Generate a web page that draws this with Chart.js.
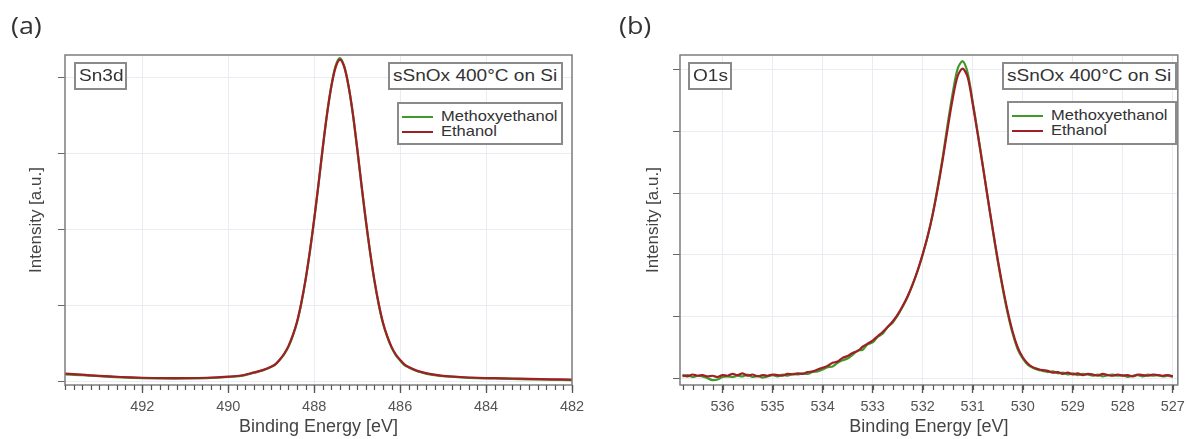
<!DOCTYPE html>
<html>
<head>
<meta charset="utf-8">
<script src="https://cdn.jsdelivr.net/npm/chart.js@4.4.0/dist/chart.umd.min.js"></script>
<style>
  body { margin:0; background:#fff; width:1190px; height:439px; overflow:hidden; position:relative;
         font-family:"Liberation Sans", Arial, sans-serif; }
  canvas { position:absolute; top:0; }
  #chartA { left:0; }
  #chartB { left:595px; }
  .panel { position:absolute; top:8px; font-family:"Open Sans", sans-serif; font-size:24px; color:#333;
           transform:scaleX(1.12); transform-origin:left top; }
  .tag { position:absolute; box-sizing:border-box; border:2px solid #8a8a8a; font-size:17px; color:#333;
         line-height:24px; background:#fff; white-space:nowrap; }
  .tag span { display:inline-block; transform:scaleX(1.12); transform-origin:left center; margin-left:3px; }
  .legend { position:absolute; box-sizing:border-box; border:2px solid #8a8a8a; font-size:15px; color:#333;
            background:#fff; padding:4px 0 0 3px; }
  .legend div { height:15px; line-height:15px; white-space:nowrap; }
  .legend i { display:inline-block; width:31px; height:2px; vertical-align:middle; margin-right:8px; }
  .legend b { font-weight:normal; display:inline-block; transform:scaleX(1.1); transform-origin:left center; }
</style>
</head>
<body>
<canvas id="chartA" width="595" height="439"></canvas>
<canvas id="chartB" width="595" height="439"></canvas>

<div class="panel" style="left:11px">(a)</div>
<div class="panel" style="left:619px">(b)</div>

<div class="tag" style="left:74px;top:62px;width:53px;height:28px"><span>Sn3d</span></div>
<div class="tag" style="left:388px;top:62px;width:175px;height:28px"><span>sSnOx 400°C on Si</span></div>
<div class="legend" style="left:397px;top:102px;width:166px;height:43px">
  <div><i style="background:#3f9a2a"></i><b>Methoxyethanol</b></div>
  <div><i style="background:#a01f26"></i><b>Ethanol</b></div>
</div>

<div class="tag" style="left:688px;top:62px;width:44px;height:28px"><span>O1s</span></div>
<div class="tag" style="left:1002px;top:62px;width:175px;height:28px"><span>sSnOx 400°C on Si</span></div>
<div class="legend" style="left:1007px;top:101px;width:170px;height:44px">
  <div><i style="background:#3f9a2a"></i><b>Methoxyethanol</b></div>
  <div><i style="background:#a01f26"></i><b>Ethanol</b></div>
</div>

<script>
// Sn3d region
const energySn = [493.8, 493.4, 493.0, 492.5, 492.0, 491.5, 491.0, 490.5, 490.0, 489.7, 489.4, 489.2,
  489.0, 488.9, 488.8, 488.7, 488.6, 488.5, 488.4, 488.3, 488.2, 488.1,
  488.0, 487.9, 487.8, 487.7, 487.6, 487.5, 487.4, 487.3, 487.2, 487.1,
  487.0, 486.9, 486.8, 486.7, 486.6, 486.5, 486.4, 486.3, 486.2, 486.1,
  486.0, 485.9, 485.8, 485.6, 485.4, 485.2, 485.0, 484.6, 484.2, 483.8, 483.4, 483.0, 482.5, 482.0];
const methoxySn = [0.10, 0.09, 0.075, 0.06, 0.05, 0.045, 0.045, 0.05, 0.065, 0.08, 0.12, 0.15,
  0.20, 0.23, 0.29, 0.36, 0.46, 0.60, 0.78, 1.03, 1.34, 1.71,
  2.13, 2.59, 3.07, 3.52, 3.89, 4.15, 4.25, 4.14, 3.88, 3.51,
  3.06, 2.58, 2.12, 1.70, 1.33, 1.02, 0.77, 0.59, 0.45, 0.35,
  0.28, 0.22, 0.19, 0.14, 0.11, 0.09, 0.075, 0.06, 0.05, 0.045, 0.04, 0.035, 0.03, 0.025];
const ethanolSn = [0.11, 0.095, 0.08, 0.065, 0.055, 0.05, 0.05, 0.055, 0.07, 0.085, 0.125, 0.155,
  0.20, 0.235, 0.295, 0.37, 0.47, 0.61, 0.79, 1.04, 1.35, 1.72,
  2.14, 2.60, 3.08, 3.52, 3.88, 4.13, 4.23, 4.13, 3.88, 3.52,
  3.07, 2.59, 2.13, 1.71, 1.34, 1.03, 0.78, 0.60, 0.46, 0.36,
  0.29, 0.23, 0.195, 0.145, 0.115, 0.095, 0.08, 0.065, 0.055, 0.05, 0.045, 0.04, 0.035, 0.03];

// O1s region
const energyO = [
  536.8, 536.7, 536.6, 536.5, 536.4, 536.3, 536.2, 536.1, 536.0, 535.9,
  535.8, 535.7, 535.6, 535.5, 535.4, 535.3, 535.2, 535.1, 535.0, 534.9,
  534.8, 534.7, 534.6, 534.5, 534.4, 534.3, 534.2, 534.1, 534.0, 533.9,
  533.8, 533.7, 533.6, 533.5, 533.4, 533.3, 533.2, 533.1, 533.0, 532.9,
  532.8, 532.7, 532.6, 532.5, 532.4, 532.3, 532.2, 532.1, 532.0, 531.9,
  531.8, 531.7, 531.6, 531.5, 531.4, 531.3, 531.2, 531.1, 531.0, 530.9,
  530.8, 530.7, 530.6, 530.5, 530.4, 530.3, 530.2, 530.1, 530.0, 529.9,
  529.8, 529.7, 529.6, 529.5, 529.4, 529.3, 529.2, 529.1, 529.0, 528.9,
  528.8, 528.7, 528.6, 528.5, 528.4, 528.3, 528.2, 528.1, 528.0, 527.9,
  527.8, 527.7, 527.6, 527.5, 527.4, 527.3, 527.2, 527.1, 527.0];
const methoxyO = [
  0.03, 0.05, 0.02, 0.04, 0.03, 0.00, -0.03, -0.02, 0.02, 0.03,
  0.02, 0.04, 0.03, 0.06, 0.02, 0.04, 0.01, 0.03, 0.05, 0.03,
  0.06, 0.04, 0.07, 0.06, 0.08, 0.07, 0.10, 0.11, 0.14, 0.18,
  0.19, 0.25, 0.29, 0.32, 0.38, 0.45, 0.46, 0.55, 0.58, 0.67,
  0.72, 0.83, 0.90, 1.02, 1.16, 1.32, 1.52, 1.74, 2.00, 2.30,
  2.66, 3.10, 3.58, 4.12, 4.62, 5.02, 5.14, 4.95, 4.48, 3.98,
  3.46, 2.92, 2.40, 1.90, 1.45, 1.05, 0.72, 0.47, 0.32, 0.22,
  0.17, 0.14, 0.12, 0.10, 0.11, 0.08, 0.09, 0.06, 0.08, 0.05,
  0.07, 0.06, 0.04, 0.06, 0.03, 0.05, 0.06, 0.04, 0.05, 0.02,
  0.04, 0.05, 0.03, 0.06, 0.04, 0.05, 0.03, 0.04, 0.02];
const ethanolO = [
  0.05, 0.03, 0.06, 0.04, 0.05, 0.03, 0.04, 0.02, 0.05, 0.04,
  0.07, 0.05, 0.08, 0.04, 0.06, 0.03, 0.05, 0.04, 0.06, 0.05,
  0.04, 0.07, 0.06, 0.08, 0.07, 0.10, 0.11, 0.14, 0.17, 0.20,
  0.25, 0.27, 0.33, 0.36, 0.41, 0.44, 0.51, 0.56, 0.61, 0.68,
  0.75, 0.83, 0.92, 1.03, 1.17, 1.33, 1.52, 1.75, 2.01, 2.30,
  2.65, 3.07, 3.54, 4.05, 4.53, 4.90, 5.02, 4.88, 4.45, 3.96,
  3.45, 2.93, 2.42, 1.93, 1.48, 1.08, 0.75, 0.50, 0.34, 0.24,
  0.18, 0.15, 0.13, 0.12, 0.09, 0.10, 0.07, 0.09, 0.06, 0.08,
  0.05, 0.07, 0.06, 0.04, 0.07, 0.05, 0.04, 0.06, 0.04, 0.05,
  0.03, 0.06, 0.05, 0.04, 0.06, 0.05, 0.04, 0.05, 0.03];

const GREEN = '#3f9a2a';
const RED = '#a01f26';

function pts(xs, ys) {
  return xs.map((x, i) => ({ x: x, y: ys[i] }));
}

// frame around plot area + short minor ticks under the x axis
function framePlugin(from, to, step) {
  return {
    id: 'frame',
    afterDraw(chart) {
      const { ctx, chartArea: a, scales } = chart;
      ctx.save();
      ctx.strokeStyle = '#7d7d7d';
      ctx.lineWidth = 1.5;
      ctx.strokeRect(a.left, a.top, a.right - a.left, a.bottom - a.top);
      ctx.strokeStyle = '#555';
      ctx.lineWidth = 1.2;
      ctx.beginPath();
      const n = Math.round((to - from) / step);
      for (let k = 0; k <= n; k++) {
        const px = Math.round(scales.x.getPixelForValue(from + k * step)) + 0.5;
        ctx.moveTo(px, a.bottom);
        ctx.lineTo(px, a.bottom + 5);
      }
      ctx.stroke();
      ctx.restore();
    }
  };
}

function makeChart(id, sets, xr, yr, widthY, titlePad, rightPad, minor) {
  return new Chart(document.getElementById(id), {
    type: 'line',
    data: {
      datasets: [
        { label: 'Methoxyethanol', data: sets[0], borderColor: GREEN, borderWidth: 2.2, pointRadius: 0, order: 1 },
        { label: 'Ethanol', data: sets[1], borderColor: RED, borderWidth: 2.2, pointRadius: 0, order: 0 }
      ]
    },
    options: {
      responsive: false,
      animation: false,
      layout: { padding: { top: 55, right: rightPad, left: 0, bottom: 0 } },
      plugins: { legend: { display: false }, tooltip: { enabled: false } },
      elements: { line: { tension: 0.3 } },
      scales: {
        x: {
          type: 'linear', reverse: true, min: xr[0], max: xr[1],
          ticks: { stepSize: xr[2], includeBounds: false, color: '#555', padding: 5,
                   font: { family: 'Liberation Sans', size: 14.5 } },
          grid: { color: '#e9ecf3', tickColor: '#555', tickLength: 8, tickWidth: 1.3 },
          border: { display: false },
          title: { display: true, text: 'Binding Energy [eV]', color: '#444', padding: { top: 0, bottom: 1 },
                   font: { family: 'Liberation Sans', size: 18 } },
          afterFit: s => { s.height = 54; }
        },
        y: {
          min: yr[0], max: yr[1],
          ticks: { stepSize: 1, includeBounds: false, display: false },
          grid: { color: '#e9ecf3', tickColor: '#666', tickLength: 7 },
          border: { display: false },
          title: { display: true, text: 'Intensity [a.u.]', color: '#444', padding: { top: titlePad, bottom: 0 },
                   font: { family: 'Liberation Sans', size: 17 } },
          afterFit: s => { s.width = widthY; }
        }
      }
    },
    plugins: [framePlugin(minor[0], minor[1], minor[2])]
  });
}

makeChart('chartA', [pts(energySn, methoxySn), pts(energySn, ethanolSn)],
  [482, 493.8, 2], [-0.04, 4.29], 65, 26, 23, [482, 493.8, 0.2]);

makeChart('chartB', [pts(energyO, methoxyO), pts(energyO, ethanolO)],
  [526.9, 536.85, 1], [-0.11, 5.24], 85, 48, 8, [527, 536.8, 0.2]);
</script>
</body>
</html>
